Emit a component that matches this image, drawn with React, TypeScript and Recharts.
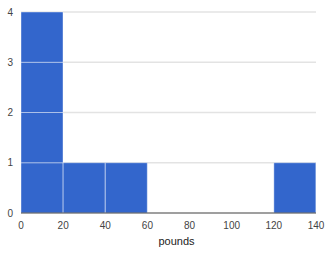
import React from 'react';
import { ComposedChart, Bar, XAxis, YAxis, CartesianGrid } from 'recharts';

const binStarts = [0, 20, 40, 60, 80, 100, 120];
const binCounts = [4, 1, 1, 0, 0, 0, 1];
const xTicks = [0, 20, 40, 60, 80, 100, 120, 140];
const yTicks = [0, 1, 2, 3, 4];
const unitKeys = ['u1', 'u2', 'u3', 'u4'];

const data = binStarts.map((s, i) => {
  const row: any = { bin: String(s), start: s + 10 };
  unitKeys.forEach((k, j) => {
    row[k] = binCounts[i] > j ? 1 : 0;
  });
  return row;
});

const font = { fontFamily: 'Liberation Sans, Arial, sans-serif', fontSize: 10, fill: '#444' };

export default function App() {
  return (
    <div style={{ position: 'absolute', left: 0, top: 0 }}>
      <ComposedChart
        width={333}
        height={253}
        data={data}
        margin={{ top: 12, right: 17, bottom: 0, left: 0 }}
        barCategoryGap={0}
        barGap={0}
      >
        <CartesianGrid vertical={false} stroke="#e3e3e3" strokeWidth={1.5} />
        <XAxis xAxisId="cat" dataKey="bin" type="category" hide height={0} />
        <XAxis
          xAxisId="num"
          dataKey="start"
          type="number"
          domain={[0, 140]}
          ticks={xTicks}
          interval={0}
          tickLine={false}
          tickSize={0}
          tickMargin={9}
          axisLine={{ stroke: '#555', strokeWidth: 1 }}
          tick={font}
          height={40}
          label={{ value: 'pounds', position: 'insideBottom', offset: 8, dx: 8, style: { ...font, fontSize: 11, fill: '#222' } }}
        />
        <YAxis
          domain={[0, 4]}
          ticks={yTicks}
          interval={0}
          axisLine={false}
          tickLine={false}
          tickSize={0}
          tickMargin={8}
          width={21}
          tick={font}
        />
        {unitKeys.map((k) => (
          <Bar
            key={k}
            xAxisId="cat"
            dataKey={k}
            stackId="a"
            fill="#3366cc"
            stroke="rgba(255,255,255,0.4)"
            strokeWidth={1}
            isAnimationActive={false}
          />
        ))}
      </ComposedChart>
    </div>
  );
}
